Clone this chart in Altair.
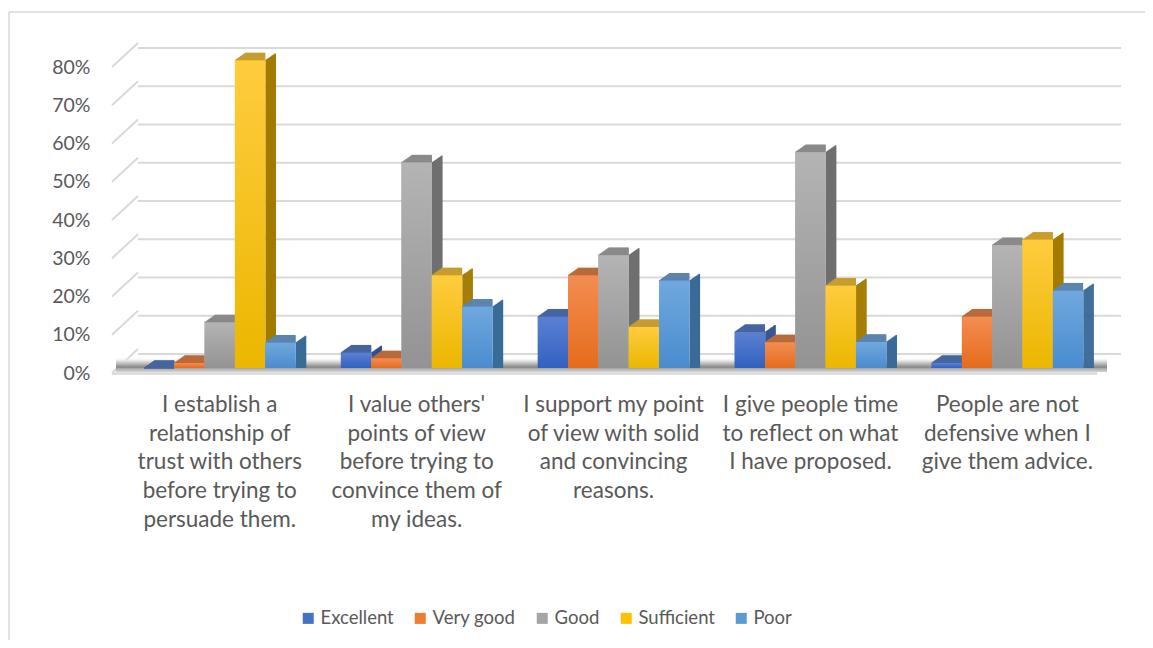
import altair as alt
import pandas as pd

# ---------------- data ----------------
categories = [
    "I establish a\nrelationship of\ntrust with others\nbefore trying to\npersuade them.",
    "I value others'\npoints of view\nbefore trying to\nconvince them of\nmy ideas.",
    "I support my point\nof view with solid\nand convincing\nreasons.",
    "I give people time\nto reflect on what\nI have proposed.",
    "People are not\ndefensive when I\ngive them advice.",
]
series = ["Excellent", "Very good", "Good", "Sufficient", "Poor"]
excellent = [0.000, 0.040, 0.134, 0.094, 0.013]
very_good = [0.013, 0.025, 0.242, 0.067, 0.134]
good = [0.119, 0.537, 0.295, 0.564, 0.321]
sufficient = [0.804, 0.242, 0.107, 0.215, 0.335]
poor = [0.066, 0.160, 0.228, 0.068, 0.202]
y_ticks = [0.0, 0.1, 0.2, 0.3, 0.4, 0.5, 0.6, 0.7, 0.8]

values = [excellent, very_good, good, sufficient, poor]

# ---------------- styles / layout ----------------
front_top = ["#5b80d2", "#f38d52", "#b4b4b4", "#ffcc3f", "#70a8de"]
front_bot = ["#3261c1", "#e56c1b", "#939393", "#ebb700", "#4a8cce"]
base_col = ["#4472c4", "#ed7d31", "#a5a5a5", "#ffc000", "#5b9bd5"]
side_col = ["#2f4f8e", "#a8561f", "#6f6f6f", "#a37b00", "#3a6b98"]
top_col = ["#46659f", "#b96a3b", "#8a8a8a", "#c79d2f", "#5c85ae"]
TXT = "#595959"
GRID = "#d9d9d9"
FONT = "Lato"

PLOT_W, PLOT_H = 1009, 306
Y_MAX = 0.8
PXU = PLOT_H / Y_MAX            # pixels per value unit
PITCH = 196.9                   # px between groups
FIRST = 32.0                    # px from plot left to first bar
BAR_PX = 30.3
x_lo = -FIRST / PITCH
x_hi = (PLOT_W - FIRST) / PITCH
bw = BAR_PX / PITCH
back_x = x_lo + 26 / PITCH
DX, DY, STEPS = 10, 7, 10

rows = []
for i, cat in enumerate(categories):
    for j, s in enumerate(series):
        x0 = i + j * bw
        rows.append({"cat": cat, "series": s, "value": values[j][i],
                     "x0": x0, "x1": x0 + bw, "order": j})
df = pd.DataFrame(rows)

labels_df = pd.DataFrame({"cat": categories,
                          "xc": [i + 2.5 * bw for i in range(len(categories))]})
grid_df = pd.DataFrame({"t": y_ticks})
grid_df["t_back"] = grid_df["t"] + 19 / PXU

xs = alt.Scale(domain=[x_lo, x_hi], nice=False, zero=False)
ys = alt.Scale(domain=[0, Y_MAX], nice=False, zero=True)
yaxis = alt.Axis(values=y_ticks, format=".0%", grid=False, domain=False,
                 ticks=False, tickSize=0, labelPadding=22, labelOffset=5,
                 labelFontSize=19.5, labelFont=FONT, labelColor=TXT, title=None)


def X(f=None, datum=None):
    if datum is not None:
        return alt.X(datum=datum, type="quantitative", scale=xs, axis=None)
    return alt.X(f, type="quantitative", scale=xs, axis=None)


def Y(f=None, datum=None):
    if datum is not None:
        return alt.Y(datum=datum, type="quantitative", scale=ys, axis=yaxis)
    return alt.Y(f, type="quantitative", scale=ys, axis=yaxis)


layers = []

# chart frame
frame = alt.Chart(alt.Data(values=[{}]))
layers.append(frame.mark_rule(color=GRID, strokeWidth=1.5).encode(
    x=alt.value(-103), y=alt.value(-50), y2=alt.value(PLOT_H + 300)))
layers.append(frame.mark_rule(color=GRID, strokeWidth=1.5).encode(
    x=alt.value(-103), x2=alt.value(PLOT_W + 40), y=alt.value(-50)))

# back wall gridlines + slanted side-wall connectors
g = alt.Chart(grid_df)
layers.append(g.mark_rule(color=GRID, strokeWidth=2, yOffset=-14).encode(
    x=X(datum=back_x), x2=alt.datum(x_hi), y=Y("t")))
layers.append(g.mark_rule(color=GRID, strokeWidth=2, yOffset=5).encode(
    x=X(datum=x_lo), x2=alt.datum(back_x), y=Y("t"), y2="t_back:Q"))

# floor shadow and front edge
fl = alt.Chart(alt.Data(values=[{}]))
shadow_grad = {"gradient": "linear", "x1": 0, "y1": 0, "x2": 0, "y2": 1,
               "stops": [{"offset": 0, "color": "rgba(255,255,255,0)"},
                         {"offset": 0.3, "color": "#dadada"},
                         {"offset": 0.55, "color": "#a4a4a4"},
                         {"offset": 0.68, "color": "#858585"},
                         {"offset": 0.76, "color": "#a8a8a8"},
                         {"offset": 1, "color": "#d6d6d6"}]}
layers.append(fl.mark_rect(fill=shadow_grad).encode(
    x=X(datum=x_lo + 4 / PITCH), x2=alt.datum(x_hi - 14 / PITCH),
    y=Y(datum=11 / PXU), y2=alt.datum(-4 / PXU)))
layers.append(fl.mark_rule(color=GRID, strokeWidth=2.5, yOffset=5.5).encode(
    x=X(datum=x_lo), x2=alt.datum(x_hi - 24 / PITCH), y=Y(datum=0)))

base = alt.Chart(df)
side_color = alt.Color("series:N", scale=alt.Scale(domain=series, range=side_col), legend=None)
top_color = alt.Color("series:N", scale=alt.Scale(domain=series, range=top_col), legend=None)

# side faces
for k in range(1, STEPS + 1):
    layers.append(base.mark_rule(strokeWidth=1.6, xOffset=k * DX / STEPS,
                                 yOffset=-k * DY / STEPS).encode(
        x=X("x1"), y=Y("value"), y2=alt.datum(0), color=side_color))
# top faces
for k in range(0, STEPS + 1):
    layers.append(base.mark_rule(strokeWidth=1.6, xOffset=k * DX / STEPS,
                                 yOffset=-k * DY / STEPS).encode(
        x=X("x0"), x2="x1:Q", y=Y("value"), color=top_color))

# front faces (solid, carries the legend)
layers.append(base.mark_rect().encode(
    x=X("x0"), x2="x1:Q", y=Y("value"), y2=alt.datum(0),
    color=alt.Color("series:N", scale=alt.Scale(domain=series, range=base_col),
                    legend=alt.Legend(orient="none", legendX=187, legendY=547,
                                      direction="horizontal", columns=5, title=None,
                                      symbolType="square", symbolSize=121,
                                      symbolStrokeWidth=0, labelFontSize=18.5,
                                      labelFont=FONT, labelColor=TXT, labelOffset=3,
                                      columnPadding=17, padding=0)),
))
# gradient overlays on the front faces
for j, s in enumerate(series):
    grad = {"gradient": "linear", "x1": 0, "y1": 0, "x2": 0, "y2": 1,
            "stops": [{"offset": 0, "color": front_top[j]},
                      {"offset": 1, "color": front_bot[j]}]}
    layers.append(base.transform_filter(alt.datum.series == s).mark_rect(fill=grad).encode(
        x=X("x0"), x2="x1:Q", y=Y("value"), y2=alt.datum(0)))

# category labels
layers.append(alt.Chart(labels_df).mark_text(
    lineBreak="\n", align="center", baseline="top", fontSize=22.5, font=FONT,
    color=TXT, lineHeight=28.7, yOffset=26).encode(
    x=X("xc"), y=Y(datum=0), text="cat:N"))

chart = alt.layer(*layers).resolve_scale(color="independent").properties(
    width=PLOT_W, height=PLOT_H,
    autosize=alt.AutoSizeParams(type="none"),
    padding={"left": 104, "top": 54, "right": 24, "bottom": 272},
    background="white",
).configure_view(stroke=None)

chart.save("out.html", embed_options={"renderer": "svg", "actions": False})
